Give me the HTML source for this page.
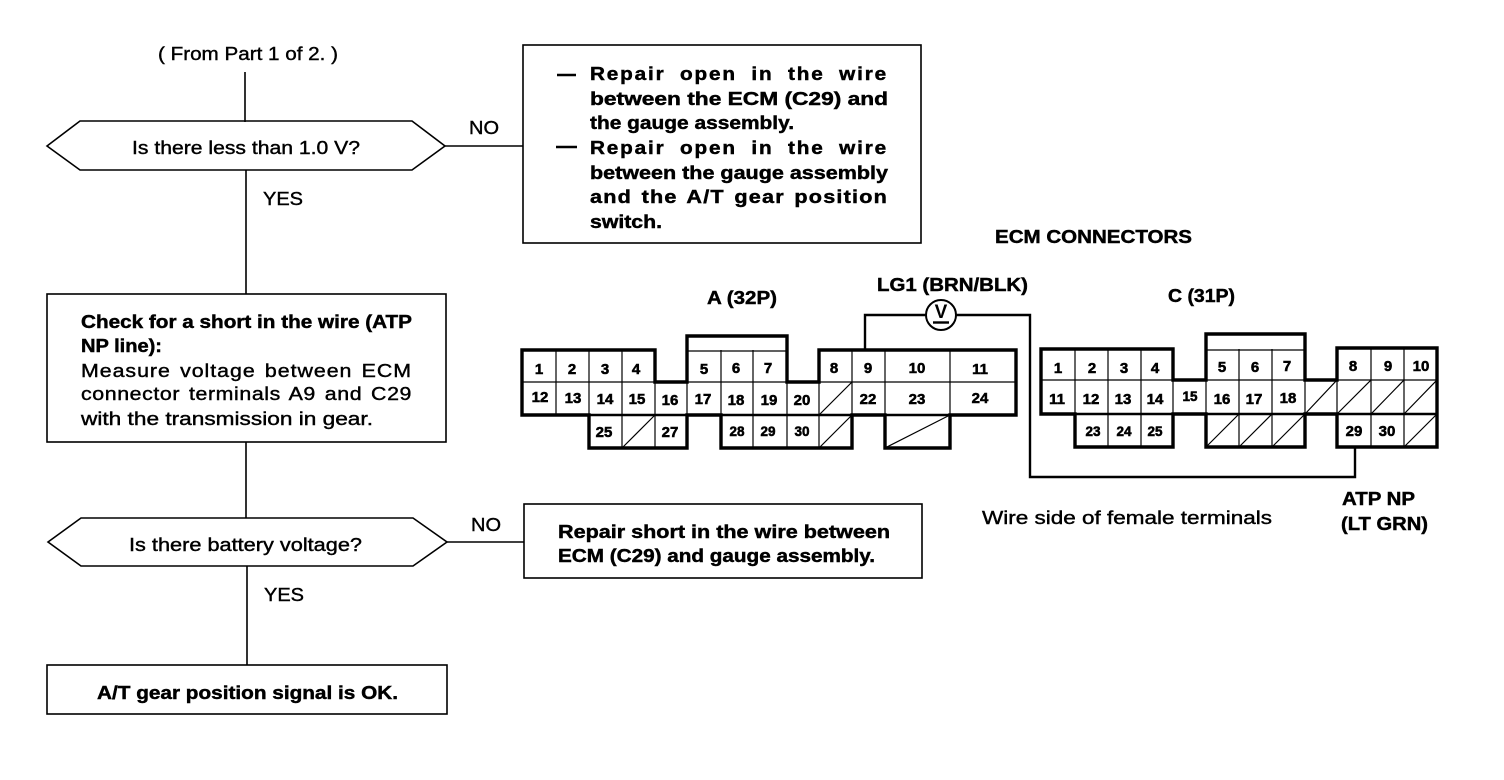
<!DOCTYPE html>
<html>
<head>
<meta charset="utf-8">
<style>
html,body{margin:0;padding:0;background:#fff;width:1504px;height:780px;overflow:hidden}
svg{display:block}
text{font-family:"Liberation Sans",Arial,sans-serif;fill:#000}
.b{font-weight:bold;font-size:18px;stroke:#000;stroke-width:.45}
.r{font-size:18px;stroke:#000;stroke-width:.4}
.n{font-weight:bold;font-size:15px;text-anchor:middle;stroke:#000;stroke-width:.55}
.s{font-weight:bold;font-size:13.5px;text-anchor:middle;stroke:#000;stroke-width:.55}
.l{fill:none;stroke:#000;stroke-width:1.6}
.t{fill:none;stroke:#000;stroke-width:1.2}
.o{fill:none;stroke:#000;stroke-width:3.4}
.m{fill:none;stroke:#000;stroke-width:2.4}
</style>
</head>
<body>
<svg width="1504" height="780" viewBox="0 0 1504 780" xmlns="http://www.w3.org/2000/svg">
<rect width="1504" height="780" fill="#fff"/>

<!-- flow connectors -->
<path class="l" d="M245 72V122M246 170V294M246 442V518M247 566V665M445 146H523M447 542H524"/>

<!-- shapes -->
<polygon class="l" points="47,146 80,121 412,121 445,146 412,170 80,170"/>
<polygon class="l" points="48,542 81,518 413,518 447,542 413,566 81,566"/>
<rect class="l" x="47" y="294" width="399" height="148"/>
<rect class="l" x="47" y="665" width="400" height="49"/>
<rect class="l" x="523" y="45" width="398" height="198"/>
<rect class="l" x="524" y="504" width="398" height="74"/>

<!-- flow text -->
<text class="r" x="158" y="60" textLength="180" lengthAdjust="spacingAndGlyphs">( From Part 1 of 2. )</text>
<text class="r" x="132" y="154" textLength="228" lengthAdjust="spacingAndGlyphs">Is there less than 1.0 V?</text>
<text class="r" x="469" y="134" textLength="30" lengthAdjust="spacingAndGlyphs">NO</text>
<text class="r" x="263" y="205" textLength="40" lengthAdjust="spacingAndGlyphs">YES</text>
<text class="r" x="129" y="551" textLength="233" lengthAdjust="spacingAndGlyphs">Is there battery voltage?</text>
<text class="r" x="471" y="531" textLength="30" lengthAdjust="spacingAndGlyphs">NO</text>
<text class="r" x="264" y="601" textLength="40" lengthAdjust="spacingAndGlyphs">YES</text>

<text class="b" x="81" y="328" textLength="331" lengthAdjust="spacingAndGlyphs">Check for a short in the wire (ATP</text>
<text class="b" x="81" y="352" textLength="81" lengthAdjust="spacingAndGlyphs">NP line):</text>
<text class="r" x="81" y="377" textLength="331" lengthAdjust="spacingAndGlyphs" style="letter-spacing:.8px;word-spacing:2px">Measure voltage between ECM</text>
<text class="r" x="81" y="400" textLength="331" lengthAdjust="spacingAndGlyphs" style="letter-spacing:.5px;word-spacing:2px">connector terminals A9 and C29</text>
<text class="r" x="81" y="425" textLength="292" lengthAdjust="spacingAndGlyphs">with the transmission in gear.</text>

<text class="b" x="97" y="699" textLength="301" lengthAdjust="spacingAndGlyphs">A/T gear position signal is OK.</text>

<path class="m" d="M557 75H576M556 147H577"/>
<text class="b" x="590" y="80" textLength="298" lengthAdjust="spacingAndGlyphs" style="letter-spacing:1.6px;word-spacing:6px">Repair open in the wire</text>
<text class="b" x="590" y="105" textLength="298" lengthAdjust="spacingAndGlyphs">between the ECM (C29) and</text>
<text class="b" x="590" y="129" textLength="204" lengthAdjust="spacingAndGlyphs">the gauge assembly.</text>
<text class="b" x="590" y="154" textLength="298" lengthAdjust="spacingAndGlyphs" style="letter-spacing:1.6px;word-spacing:6px">Repair open in the wire</text>
<text class="b" x="590" y="179" textLength="298" lengthAdjust="spacingAndGlyphs">between the gauge assembly</text>
<text class="b" x="590" y="203" textLength="298" lengthAdjust="spacingAndGlyphs" style="letter-spacing:1px;word-spacing:2px">and the A/T gear position</text>
<text class="b" x="590" y="228" textLength="72" lengthAdjust="spacingAndGlyphs">switch.</text>

<text class="b" x="558" y="538" textLength="332" lengthAdjust="spacingAndGlyphs">Repair short in the wire between</text>
<text class="b" x="558" y="562" textLength="317" lengthAdjust="spacingAndGlyphs">ECM (C29) and gauge assembly.</text>

<!-- labels -->
<text class="b" x="995" y="243" textLength="197" lengthAdjust="spacingAndGlyphs">ECM CONNECTORS</text>
<text class="b" x="707" y="304" textLength="70" lengthAdjust="spacingAndGlyphs">A (32P)</text>
<text class="b" x="877" y="291" textLength="151" lengthAdjust="spacingAndGlyphs">LG1 (BRN/BLK)</text>
<text class="b" x="1168" y="302" textLength="67" lengthAdjust="spacingAndGlyphs">C (31P)</text>
<text class="r" x="982" y="524" textLength="290" lengthAdjust="spacingAndGlyphs">Wire side of female terminals</text>
<text class="b" x="1342" y="505" textLength="73" lengthAdjust="spacingAndGlyphs">ATP NP</text>
<text class="b" x="1341" y="530" textLength="87" lengthAdjust="spacingAndGlyphs">(LT GRN)</text>

<!-- wire and voltmeter -->
<path class="m" d="M865 350V315H926M956 315H1030V477H1355V447"/>
<circle cx="941" cy="315" r="15" fill="#fff" stroke="#000" stroke-width="2"/>
<text x="941" y="318" text-anchor="middle" style="font-weight:bold;font-size:19px">V</text>
<path class="m" d="M933 322.500H949"/>

<!-- Connector A -->
<path class="t" d="M522 382H1016M687 351H787"/>
<path class="t" d="M556 350V415M589 350V415M622 350V448M721 350V415M753 350V448M787 382V448M852 350V415M885 350V415M950 350V415M655 382V448M687 382V415M819 382V448"/>
<path class="t" d="M819 415L852 382M819 448L852 415M622 448L655 415M885 448L950 415"/>
<path class="m" d="M522 415H1016"/>
<path class="o" d="M522 350H655V382H687V336H787V382H819V350H1016V415H950V448H885V415H852V448H721V415H687V448H589V415H522Z"/>

<!-- Connector C -->
<path class="t" d="M1041 380H1437M1206 350H1305"/>
<path class="t" d="M1075 349V414M1108 349V447M1141 349V447M1173 380V414M1206 380V414M1239 349V447M1272 349V447M1305 380V414M1337 380V414M1371 348V447M1404 348V447"/>
<path class="t" d="M1305 414L1337 380M1337 414L1371 380M1371 414L1404 380M1404 414L1437 380M1206 447L1239 414M1239 447L1272 414M1272 447L1305 414M1404 447L1437 414"/>
<path class="m" d="M1041 414H1437"/>
<path class="o" d="M1041 349H1173V380H1206V334H1305V380H1337V348H1437V447H1337V414H1305V447H1206V414H1173V447H1075V414H1041Z"/>

<!-- A numbers -->
<g>
<text class="n" x="539" y="374">1</text><text class="n" x="572" y="374">2</text><text class="n" x="605" y="374">3</text><text class="n" x="636" y="374">4</text>
<text class="n" x="704" y="374">5</text><text class="n" x="736" y="373">6</text><text class="n" x="768" y="373">7</text>
<text class="n" x="834" y="373">8</text><text class="n" x="868" y="373">9</text><text class="n" x="917" y="373">10</text><text class="n" x="980" y="374">11</text>
<text class="n" x="540" y="402">12</text><text class="n" x="573" y="403">13</text><text class="n" x="605" y="404">14</text><text class="n" x="637" y="404">15</text><text class="n" x="670" y="405">16</text><text class="n" x="703" y="404">17</text><text class="n" x="736" y="405">18</text><text class="n" x="769" y="405">19</text><text class="n" x="802" y="405">20</text><text class="n" x="868" y="404">22</text><text class="n" x="917" y="404">23</text><text class="n" x="980" y="403">24</text>
<text class="n" x="604" y="437">25</text><text class="n" x="670" y="437">27</text>
<text class="s" x="737" y="436">28</text><text class="s" x="768" y="436">29</text><text class="s" x="802" y="436">30</text>
</g>
<!-- C numbers -->
<g>
<text class="n" x="1058" y="373">1</text><text class="n" x="1092" y="373">2</text><text class="n" x="1124" y="373">3</text><text class="n" x="1155" y="373">4</text>
<text class="n" x="1222" y="372">5</text><text class="n" x="1255" y="372">6</text><text class="n" x="1287" y="371">7</text>
<text class="n" x="1353" y="371">8</text><text class="n" x="1388" y="371">9</text><text class="n" x="1421" y="371">10</text>
<text class="n" x="1057" y="404">11</text><text class="n" x="1091" y="404">12</text><text class="n" x="1123" y="404">13</text><text class="n" x="1155" y="404">14</text><text class="s" x="1190" y="401">15</text><text class="n" x="1222" y="404">16</text><text class="n" x="1254" y="404">17</text><text class="n" x="1288" y="403">18</text>
<text class="s" x="1093" y="436">23</text><text class="s" x="1124" y="436">24</text><text class="s" x="1155" y="436">25</text>
<text class="n" x="1354" y="436">29</text><text class="n" x="1387" y="436">30</text>
</g>
</svg>
</body>
</html>
